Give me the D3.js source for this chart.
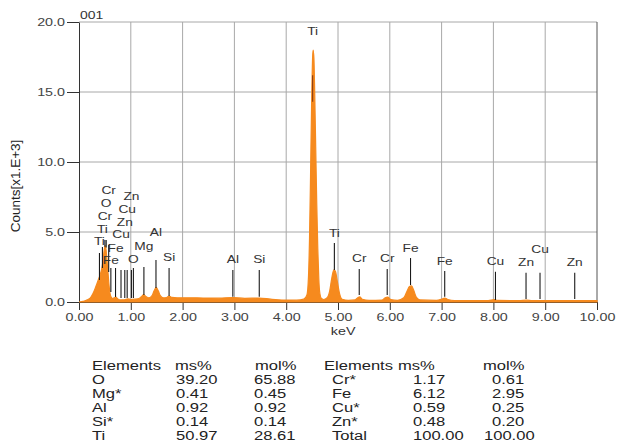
<!DOCTYPE html>
<html>
<head>
<meta charset="utf-8">
<script src="https://cdn.jsdelivr.net/npm/d3@7"></script>
<style>
    body { margin: 0; background: #fff; }
    svg { display: block; font-family: "Liberation Sans", Arial, sans-serif; }
</style>
</head>
<body>
<div id="chart"></div>
<script>

// spectrum: energy (keV) and counts (x1000)
const spectrumKeV = [0.00, 0.08, 0.16, 0.22, 0.27, 0.31, 0.35, 0.39, 0.42, 0.45, 0.47, 0.49, 0.505, 0.52, 0.54, 0.56, 0.58, 0.60, 0.62, 0.65,
    0.68, 0.71, 0.75, 0.80, 0.88, 0.94, 1.00, 1.08, 1.16, 1.21, 1.25, 1.29, 1.35, 1.41, 1.45, 1.49, 1.53, 1.57, 1.63, 1.69,
    1.74, 1.79, 1.90, 2.10, 2.40, 2.70, 2.97, 3.20, 3.48, 3.70, 3.95, 4.20, 4.34, 4.40, 4.43, 4.45, 4.47, 4.49, 4.51, 4.52,
    4.535, 4.55, 4.57, 4.59, 4.61, 4.63, 4.65, 4.68, 4.72, 4.79, 4.84, 4.88, 4.92, 4.95, 4.99, 5.03, 5.08, 5.20, 5.33, 5.38,
    5.42, 5.47, 5.60, 5.85, 5.91, 5.96, 6.02, 6.15, 6.27, 6.33, 6.38, 6.42, 6.46, 6.51, 6.58, 6.90, 7.00, 7.06, 7.12, 7.25,
    7.90, 8.02, 8.08, 8.50, 8.64, 8.75, 9.50, 10.00];
const spectrumCounts = [0.00, 0.05, 0.15, 0.30, 0.60, 0.95, 1.35, 1.75, 2.10, 2.60, 3.20, 3.80, 4.02, 3.80, 3.00, 2.10, 1.20, 0.60, 0.35, 0.25,
    0.30, 0.35, 0.22, 0.15, 0.16, 0.22, 0.18, 0.20, 0.25, 0.40, 0.52, 0.40, 0.30, 0.45, 0.80, 1.05, 0.80, 0.45, 0.30, 0.32,
    0.43, 0.33, 0.30, 0.30, 0.28, 0.27, 0.32, 0.26, 0.28, 0.20, 0.14, 0.13, 0.20, 0.50, 1.80, 4.50, 9.00, 14.00, 17.50, 18.00,
    17.40, 15.00, 11.00, 7.00, 3.80, 1.60, 0.60, 0.25, 0.18, 0.30, 0.80, 1.70, 2.30, 2.20, 1.40, 0.60, 0.20, 0.12, 0.15, 0.30,
    0.36, 0.20, 0.12, 0.14, 0.30, 0.35, 0.18, 0.12, 0.30, 0.75, 1.10, 1.15, 0.85, 0.35, 0.15, 0.12, 0.20, 0.28, 0.18, 0.10,
    0.10, 0.17, 0.11, 0.10, 0.13, 0.10, 0.10, 0.10];

// element markers: energy, name, label height and marker line span (counts x1000)
const markerKeV    = [0.395, 0.452, 0.500, 0.525, 0.573, 0.615, 0.705, 0.811, 0.884, 0.930, 1.012, 1.050, 1.253, 1.486, 1.739,
    2.970, 3.480, 4.510, 4.930, 5.410, 5.950, 6.400, 7.060, 8.040, 8.630, 8.900, 9.570];
const markerNames  = ["Ti", "Ti", "Cr", "O", "Cr", "Fe", "Fe", "Cu", "Zn", "Cu", "Zn", "O", "Mg", "Al", "Si",
    "Al", "Si", "Ti", "Ti", "Cr", "Cr", "Fe", "Fe", "Cu", "Zn", "Cu", "Zn"];
const markerLabelAt = [4.36, 5.21, 6.14, 7.07, 8.00, 3.00, 3.86, 4.86, 5.71, 6.64, 7.57, 3.07, 4.00, 5.00, 3.21,
    3.07, 3.07, 19.36, 4.93, 3.14, 3.14, 3.86, 2.93, 2.93, 2.86, 3.79, 2.86];
const markerTop    = [3.50, 3.93, 4.43, 4.43, 4.07, 2.43, 2.43, 2.29, 2.29, 2.29, 2.29, 2.43, 2.50, 3.00, 2.43,
    2.29, 2.29, 16.20, 4.21, 2.36, 2.36, 3.14, 2.21, 2.16, 2.09, 2.09, 2.09];
const markerBottom = [1.57, 2.43, 3.95, 3.90, 2.14, 0.71, 0.36, 0.29, 0.29, 0.29, 0.29, 0.29, 0.50, 1.00, 0.43,
    0.38, 0.38, 14.30, 2.29, 0.50, 0.50, 1.21, 0.38, 0.14, 0.21, 0.21, 0.21];

// axis ticks
const xTicks = [0, 1, 2, 3, 4, 5, 6, 7, 8, 9, 10];
const yTicks = [0, 5, 10, 15, 20];

// quantification table
const tableElements = ["O", "Mg*", "Al", "Si*", "Ti", "Cr*", "Fe", "Cu*", "Zn*", "Total"];
const tableMass     = ["39.20", "0.41", "0.92", "0.14", "50.97", "1.17", "6.12", "0.59", "0.48", "100.00"];
const tableMol      = ["65.88", "0.45", "0.92", "0.14", "28.61", "0.61", "2.95", "0.25", "0.20", "100.00"];


class SpectrumVis {

    constructor(_parentElement) {
        this.parentElement = _parentElement;
        this.data = spectrumKeV.map((e, i) => ({e: e, c: spectrumCounts[i]}));
        this.markers = markerKeV.map((e, i) => ({
            e: e, name: markerNames[i], label: markerLabelAt[i], top: markerTop[i], bottom: markerBottom[i]
        }));
        this.initVis();
    }

    initVis() {
        let vis = this;

        vis.margin = {top: 22, right: 20, bottom: 141, left: 79};
        vis.width = 617 - vis.margin.left - vis.margin.right;
        vis.height = 443 - vis.margin.top - vis.margin.bottom;

        vis.root = d3.select("#" + vis.parentElement).append("svg")
            .attr("width", 617)
            .attr("height", 443);

        vis.svg = vis.root.append("g")
            .attr("transform", "translate(" + vis.margin.left + "," + vis.margin.top + ")");

        // init scales
        vis.x = d3.scaleLinear().domain([0, 10]).range([0, vis.width]);
        vis.y = d3.scaleLinear().domain([0, 20]).range([vis.height, 0]);

        // text in the original is drawn wide
        vis.wide = 1.3;

        vis.updateVis();
        vis.drawTable();
    }

    updateVis() {
        let vis = this;

        // grid
        vis.svg.append("g").selectAll("line.vgrid")
            .data(xTicks.slice(1, -1))
            .join("line")
            .attr("x1", d => vis.x(d)).attr("x2", d => vis.x(d))
            .attr("y1", 0).attr("y2", vis.height)
            .attr("stroke", "#a8a8a8");
        vis.svg.append("g").selectAll("line.hgrid")
            .data(yTicks.slice(1))
            .join("line")
            .attr("x1", 0).attr("x2", vis.width)
            .attr("y1", d => vis.y(d)).attr("y2", d => vis.y(d))
            .attr("stroke", "#a8a8a8");

        // right border
        vis.svg.append("line")
            .attr("x1", vis.width).attr("x2", vis.width)
            .attr("y1", 0).attr("y2", vis.height)
            .attr("stroke", "#555");

        // x & y axis
        let xAxis = vis.svg.append("g")
            .attr("transform", "translate(0," + vis.height + ")")
            .call(d3.axisBottom(vis.x).tickValues(xTicks).tickFormat(d3.format(".2f")).tickSize(8).tickSizeOuter(0));
        let yAxis = vis.svg.append("g")
            .call(d3.axisLeft(vis.y).tickValues(yTicks).tickFormat(d3.format(".1f")).tickSize(12).tickSizeOuter(0));

        [xAxis, yAxis].forEach(a => {
            a.select(".domain").attr("stroke", "#333");
            a.selectAll(".tick line").attr("stroke", "#333");
            a.selectAll(".tick text")
                .attr("fill", "#444")
                .attr("font-size", 11)
                .attr("font-family", "Liberation Sans, Arial, sans-serif");
        });
        xAxis.selectAll(".tick text").attr("y", 11).attr("dy", "0.71em")
            .attr("transform", `scale(${vis.wide},1)`);
        yAxis.selectAll(".tick text").attr("x", -14 / vis.wide).attr("dy", "0.34em")
            .attr("transform", `scale(${vis.wide},1)`);

        // spectrum area
        vis.area = d3.area()
            .curve(d3.curveMonotoneX)
            .x(d => vis.x(d.e))
            .y0(vis.y(0))
            .y1(d => vis.y(d.c));

        vis.svg.append("path")
            .datum(vis.data)
            .attr("d", vis.area)
            .attr("fill", "#f68a1e")
            .attr("stroke", "#f68a1e")
            .attr("stroke-width", 1.2);

        // element marker lines
        vis.svg.append("g").selectAll("line")
            .data(vis.markers)
            .join("line")
            .attr("x1", d => vis.x(d.e)).attr("x2", d => vis.x(d.e))
            .attr("y1", d => vis.y(d.top)).attr("y2", d => vis.y(d.bottom))
            .attr("stroke", d => d.bottom > 10 ? "#8a3c12" : "#1a1a1a")
            .attr("stroke-width", 1.1);

        // element labels
        vis.svg.append("g").selectAll("text")
            .data(vis.markers)
            .join("text")
            .attr("transform", d => `translate(${vis.x(d.e)},${vis.y(d.label)}) scale(1.25,1)`)
            .attr("text-anchor", "middle")
            .attr("dy", "0.35em")
            .attr("font-size", 11)
            .attr("fill", "#333")
            .text(d => d.name);

        // titles
        vis.svg.append("text")
            .attr("transform", `translate(1,-3) scale(1.4,1)`)
            .attr("font-size", 10)
            .attr("fill", "#333")
            .text("001");

        vis.svg.append("text")
            .attr("transform", `translate(${vis.x(5.1)},${vis.height + 33}) scale(${vis.wide},1)`)
            .attr("text-anchor", "middle")
            .attr("font-size", 11)
            .attr("fill", "#333")
            .text("keV");

        vis.root.append("text")
            .attr("transform", `translate(20,${vis.margin.top + 164}) rotate(-90)`)
            .attr("text-anchor", "middle")
            .attr("font-size", 13.5)
            .attr("fill", "#222")
            .text("Counts[x1.E+3]");
    }

    drawTable() {
        let vis = this;
        let t = vis.root.append("g")
            .attr("font-size", 12)
            .attr("fill", "#222");
        let sx = 1.38;
        let rowY = i => 369.5 + 14.1 * i;
        let put = (x, y, s) => t.append("text")
            .attr("transform", `translate(${x},${y}) scale(${sx},1)`)
            .text(s);

        // headers
        put(92, rowY(0), "Elements");
        put(175, rowY(0), "ms%");
        put(255, rowY(0), "mol%");
        put(324, rowY(0), "Elements");
        put(398, rowY(0), "ms%");
        put(483, rowY(0), "mol%");

        // rows
        tableElements.forEach((el, i) => {
            if (i < 5) {
                put(92, rowY(i + 1), el);
                put(176, rowY(i + 1), tableMass[i]);
                put(254, rowY(i + 1), tableMol[i]);
            } else {
                let r = i - 4;
                put(332, rowY(r), el);
                put(413, rowY(r), tableMass[i]);
                put(tableMol[i].length > 4 ? 484 : 492, rowY(r), tableMol[i]);
            }
        });
    }
}

new SpectrumVis("chart");

</script>
</body>
</html>
